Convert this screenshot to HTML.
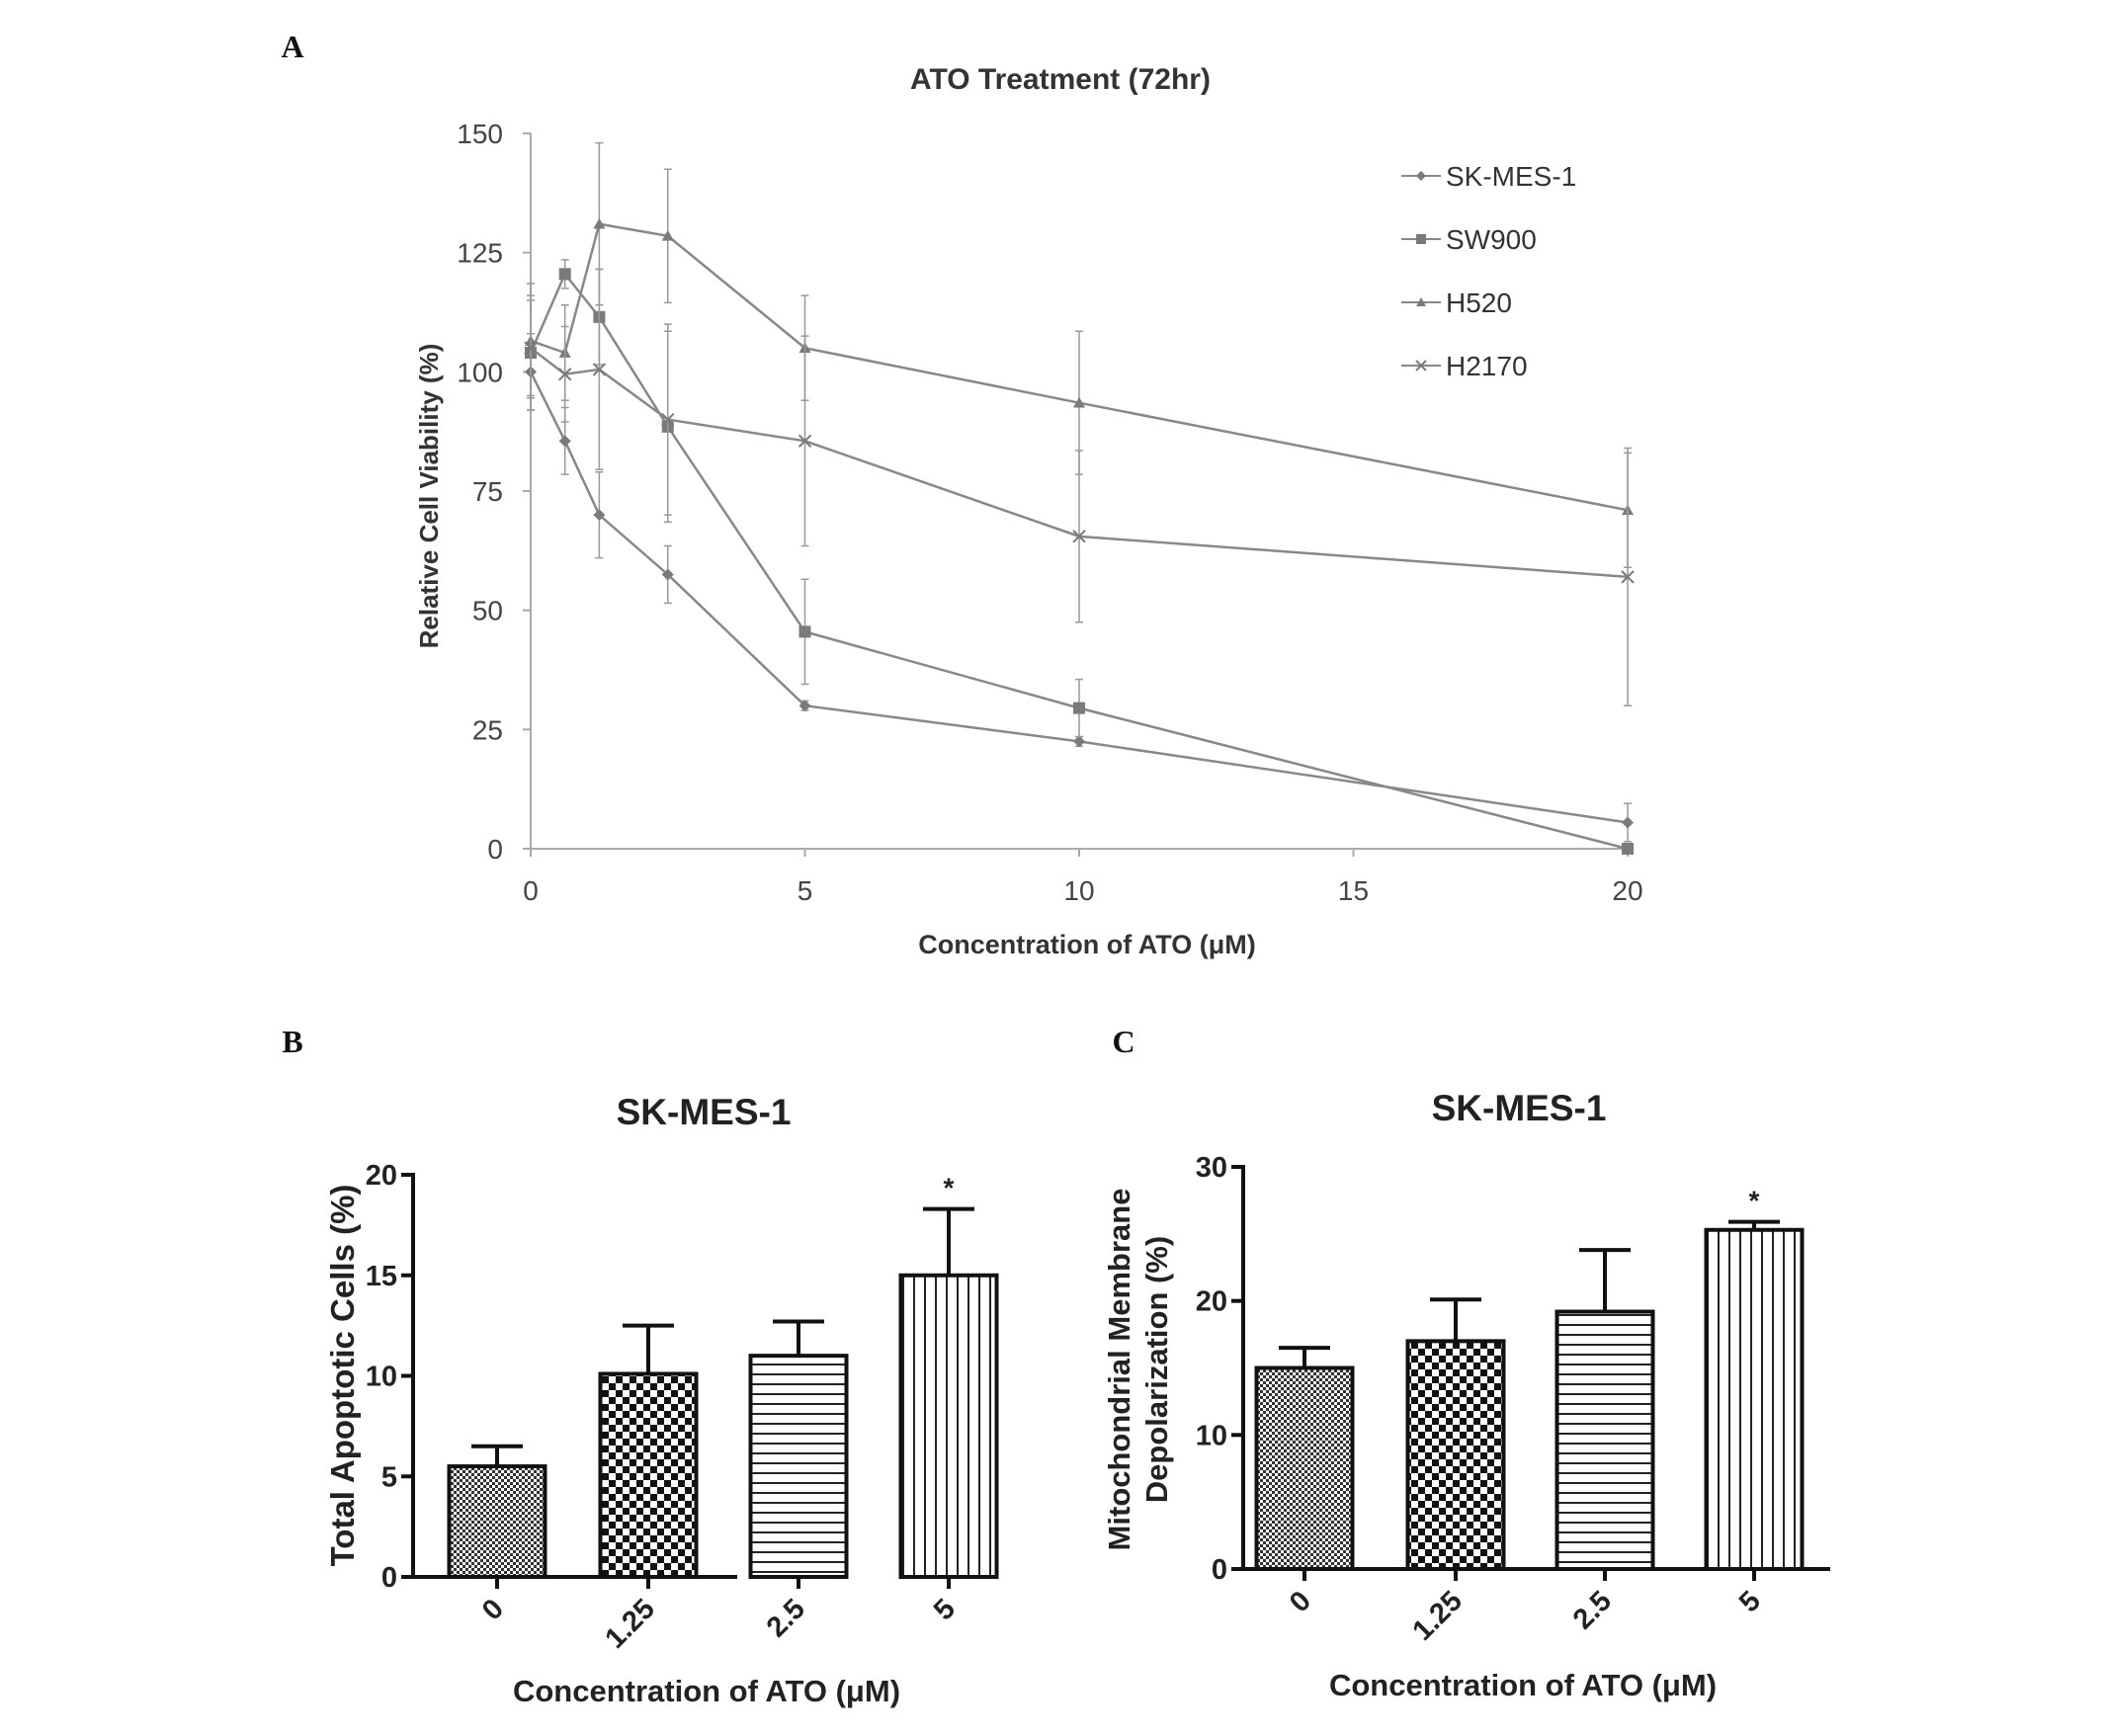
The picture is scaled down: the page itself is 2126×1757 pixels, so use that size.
<!DOCTYPE html>
<html><head><meta charset="utf-8"><style>
html,body{margin:0;padding:0;background:#fff;}
svg{display:block;font-family:"Liberation Sans",sans-serif;}
</style></head><body>
<svg id="fig" width="2126" height="1757" viewBox="0 0 2126 1757">
<defs>
<pattern id="pDots" width="6" height="6" patternUnits="userSpaceOnUse"><rect width="6" height="6" fill="#fff"/><rect width="3" height="3" fill="#333"/><rect x="3" y="3" width="3" height="3" fill="#333"/></pattern>
<pattern id="pCheck" width="14" height="14" patternUnits="userSpaceOnUse"><rect width="14" height="14" fill="#fff"/><rect width="7" height="7" fill="#111"/><rect x="7" y="7" width="7" height="7" fill="#111"/></pattern>
<pattern id="pHoriz" width="10" height="10" patternUnits="userSpaceOnUse"><rect width="10" height="10" fill="#fff"/><rect y="0" width="10" height="2" fill="#222"/></pattern>
<pattern id="pVert" width="11" height="10" patternUnits="userSpaceOnUse"><rect width="11" height="10" fill="#fff"/><rect x="0" width="2" height="10" fill="#222"/></pattern>
</defs>
<g id="panelA"></g>
<g id="panelB"></g>
<g id="panelC"></g>
</svg>
<script>
// Panel A data
const concX = [0, 0.625, 1.25, 2.5, 5, 10, 20];
const xTicks = [0, 5, 10, 15, 20];
const yTicksA = [0, 25, 50, 75, 100, 125, 150];
const seriesNames = ["SK-MES-1", "SW900", "H520", "H2170"];
const skmes = [100, 85.5, 70, 57.5, 30, 22.5, 5.5];
const skmesErr = [8, 7, 9, 6, 1, 1, 4];
const sw900 = [104, 120.5, 111.5, 88.5, 45.5, 29.5, 0];
const sw900Err = [12, 3, 10, 20, 11, 6, 1];
const h520 = [106.5, 104, 131, 128.5, 105, 93.5, 71];
const h520Err = [12, 10, 17, 14, 11, 15, 12];
const h2170 = [105, 99.5, 100.5, 90, 85.5, 65.5, 57];
const h2170Err = [10, 10, 21, 20, 22, 18, 27];
// Panel B data
const barCats = ["0", "1.25", "2.5", "5"];
const apoptotic = [5.5, 10.1, 11.0, 15.0];
const apoptoticErr = [1.0, 2.4, 1.7, 3.3];
const yTicksB = [0, 5, 10, 15, 20];
// Panel C data
const depol = [15.0, 17.0, 19.2, 25.3];
const depolErr = [1.5, 3.1, 4.6, 0.6];
const yTicksC = [0, 10, 20, 30];

const NS = "http://www.w3.org/2000/svg";
function mk(parent, tag, attrs, text) {
  const e = document.createElementNS(NS, tag);
  for (const k in attrs) e.setAttribute(k, attrs[k]);
  if (text !== undefined) e.textContent = text;
  parent.appendChild(e);
  return e;
}

// ---------- Panel A ----------
(function(){
  const g = document.getElementById('panelA');
  const X0 = 537, X1 = 1647, Y0 = 859, Y1 = 135;
  const sx = v => X0 + (X1 - X0) * v / 20;
  const sy = v => Y0 - (Y0 - Y1) * v / 150;
  const gray = "#7a7a7a";
  let t;
  t = mk(g, 'text', {x: 296, y: 58, 'font-family': '"Liberation Serif",serif', 'font-weight': 'bold', 'font-size': 32, fill: '#111', 'text-anchor': 'middle'}, 'A');
   
  t = mk(g, 'text', {x: 1073, y: 90, 'font-weight': 'bold', 'font-size': 30, fill: '#333', 'text-anchor': 'middle'}, 'ATO Treatment (72hr)');
   
  let a = mk(g, 'line', {x1: X0, y1: Y1, x2: X0, y2: Y0, stroke: '#aaa', 'stroke-width': 2});
   
  a = mk(g, 'line', {x1: X0, y1: Y0, x2: X1, y2: Y0, stroke: '#aaa', 'stroke-width': 2});
   
  yTicksA.forEach(v => {
    mk(g, 'line', {x1: X0 - 8, x2: X0, y1: sy(v), y2: sy(v), stroke: '#aaa', 'stroke-width': 2});
    const l = mk(g, 'text', {x: X0 - 28, y: sy(v) + 10, 'font-size': 28, fill: '#444', 'text-anchor': 'end'}, v);
     
  });
  xTicks.forEach(v => {
    mk(g, 'line', {x1: sx(v), x2: sx(v), y1: Y0, y2: Y0 + 8, stroke: '#aaa', 'stroke-width': 2});
    const l = mk(g, 'text', {x: sx(v), y: Y0 + 52, 'font-size': 28, fill: '#444', 'text-anchor': 'middle'}, v);
     
  });
  t = mk(g, 'text', {x: 1100, y: 965, 'font-weight': 'bold', 'font-size': 27, fill: '#333', 'text-anchor': 'middle'}, 'Concentration of ATO (\u03BCM)');
   
  t = mk(g, 'text', {x: 0, y: 0, 'font-weight': 'bold', 'font-size': 26, fill: '#333', 'text-anchor': 'middle', transform: 'translate(443,502) rotate(-90)'}, 'Relative Cell Viability (%)');
   

  const allV = [skmes, sw900, h520, h2170], allE = [skmesErr, sw900Err, h520Err, h2170Err];
  const markers = ['diamond', 'square', 'triangle', 'cross'];
  function marker(parent, type, x, y, s) {
    let m;
    if (type === 'diamond') m = mk(parent, 'polygon', {points: `${x},${y-s} ${x+s},${y} ${x},${y+s} ${x-s},${y}`, fill: gray});
    else if (type === 'square') m = mk(parent, 'rect', {x: x-s, y: y-s, width: 2*s, height: 2*s, fill: gray});
    else if (type === 'triangle') m = mk(parent, 'polygon', {points: `${x},${y-s} ${x+s},${y+s*0.8} ${x-s},${y+s*0.8}`, fill: gray});
    else m = mk(parent, 'path', {d: `M${x-s},${y-s}L${x+s},${y+s}M${x-s},${y+s}L${x+s},${y-s}`, stroke: gray, 'stroke-width': 2});
    return m;
  }
  allV.forEach((vals, si) => {
    const sg = mk(g, 'g', {});
    
    
    vals.forEach((v, i) => {
      const x = sx(concX[i]), e = allE[si][i];
      const eb = mk(sg, 'path', {d: `M${x},${sy(v+e)}V${sy(Math.max(0,v-e))}M${x-4},${sy(v+e)}h8M${x-4},${sy(Math.max(0,v-e))}h8`, stroke: '#999', 'stroke-width': 1.5, fill: 'none'});
       
    });
    const pl = mk(sg, 'polyline', {points: vals.map((v, i) => sx(concX[i]) + ',' + sy(v)).join(' '), fill: 'none', stroke: '#888', 'stroke-width': 2.5});
     
    vals.forEach((v, i) => {
      const m = marker(sg, markers[si], sx(concX[i]), sy(v), 6);
       
    });
    const ly = 178 + si * 64;
    const lg = mk(g, 'g', {});
     
    mk(lg, 'line', {x1: 1418, x2: 1458, y1: ly, y2: ly, stroke: '#888', 'stroke-width': 2});
    marker(lg, markers[si], 1438, ly, 5);
    mk(lg, 'text', {x: 1463, y: ly + 10, 'font-size': 28, fill: '#333'}, seriesNames[si]);
  });
})();

// ---------- Bar panels ----------
function barPanel(gid, opt) {
  const g = document.getElementById(gid);
  const {X0, X1, Y0, Ytop, ymax, ticks, vals, errs, centers, bw, label, lx, title, tx, ty, ylines, ylx, yly, xtx} = opt;
  const sy = v => Y0 - (Y0 - Ytop) * v / ymax;
  const pats = ['pDots', 'pCheck', 'pHoriz', 'pVert'];
  let t = mk(g, 'text', {x: lx, y: 1065, 'font-family': '"Liberation Serif",serif', 'font-weight': 'bold', 'font-size': 32, fill: '#111', 'text-anchor': 'middle'}, label);
   
  t = mk(g, 'text', {x: tx, y: ty, 'font-weight': 'bold', 'font-size': 37, fill: '#222', 'text-anchor': 'middle'}, title);
   
  let a = mk(g, 'line', {x1: X0, y1: Ytop - 2, x2: X0, y2: Y0, stroke: '#111', 'stroke-width': 4});
   
  a = mk(g, 'line', {x1: X0, y1: Y0, x2: X1, y2: Y0, stroke: '#111', 'stroke-width': 4});
   
  ticks.forEach(v => {
    mk(g, 'line', {x1: X0 - 12, x2: X0, y1: sy(v), y2: sy(v), stroke: '#111', 'stroke-width': 4});
    const l = mk(g, 'text', {x: X0 - 16, y: sy(v) + 10, 'font-weight': 'bold', 'font-size': 29, fill: '#222', 'text-anchor': 'end'}, v);
     
  });
  vals.forEach((v, i) => {
    const c = centers[i], top = sy(v), et = sy(v + errs[i]);
    const eb = mk(g, 'path', {d: `M${c},${top}V${et}M${c-26},${et}h52`, stroke: '#111', 'stroke-width': 4, fill: 'none'});
     
    const r = mk(g, 'rect', {x: c - bw/2, y: top, width: bw, height: Y0 - top, fill: `url(#${pats[i]})`, stroke: '#111', 'stroke-width': 4});
     
    mk(g, 'line', {x1: c, x2: c, y1: Y0, y2: Y0 + 12, stroke: '#111', 'stroke-width': 4});
    const l = mk(g, 'text', {x: 0, y: 0, 'font-weight': 'bold', 'font-size': 29, fill: '#222', 'text-anchor': 'end', transform: `translate(${c + 8},${Y0 + 34}) rotate(-45)`}, barCats[i]);
     
  });
  const st = mk(g, 'text', {x: centers[3], y: sy(vals[3] + errs[3]) - 12, 'font-weight': 'bold', 'font-size': 28, fill: '#222', 'text-anchor': 'middle'}, '*');
   
  t = mk(g, 'text', {x: xtx, y: opt.xty, 'font-weight': 'bold', 'font-size': 31, fill: '#222', 'text-anchor': 'middle'}, 'Concentration of ATO (\u03BCM)');
   
  ylines.forEach((s, k) => {
    const yt = mk(g, 'text', {x: 0, y: 0, 'font-weight': 'bold', 'font-size': opt.yfs, fill: '#222', 'text-anchor': 'middle', transform: `translate(${ylx[k]},${yly}) rotate(-90)`}, s);
     
  });
}
barPanel('panelB', {X0: 418, X1: 746, Y0: 1596, Ytop: 1189, ymax: 20, ticks: yTicksB, vals: apoptotic, errs: apoptoticErr,
  centers: [503, 656, 808, 960], bw: 97, label: 'B', lx: 296, title: 'SK-MES-1', tx: 712, ty: 1138,
  ylines: ['Total Apoptotic Cells (%)'], ylx: [358], yly: 1392, yfs: 33, xtx: 715, xty: 1722});
barPanel('panelC', {X0: 1258, X1: 1852, Y0: 1588, Ytop: 1181, ymax: 30, ticks: yTicksC, vals: depol, errs: depolErr,
  centers: [1320, 1473, 1624, 1775], bw: 97, label: 'C', lx: 1137, title: 'SK-MES-1', tx: 1537, ty: 1134,
  ylines: ['Mitochondrial Membrane', 'Depolarization (%)'], ylx: [1143, 1181], yly: 1386, yfs: 31, xtx: 1541, xty: 1716});
</script>
</body></html>
